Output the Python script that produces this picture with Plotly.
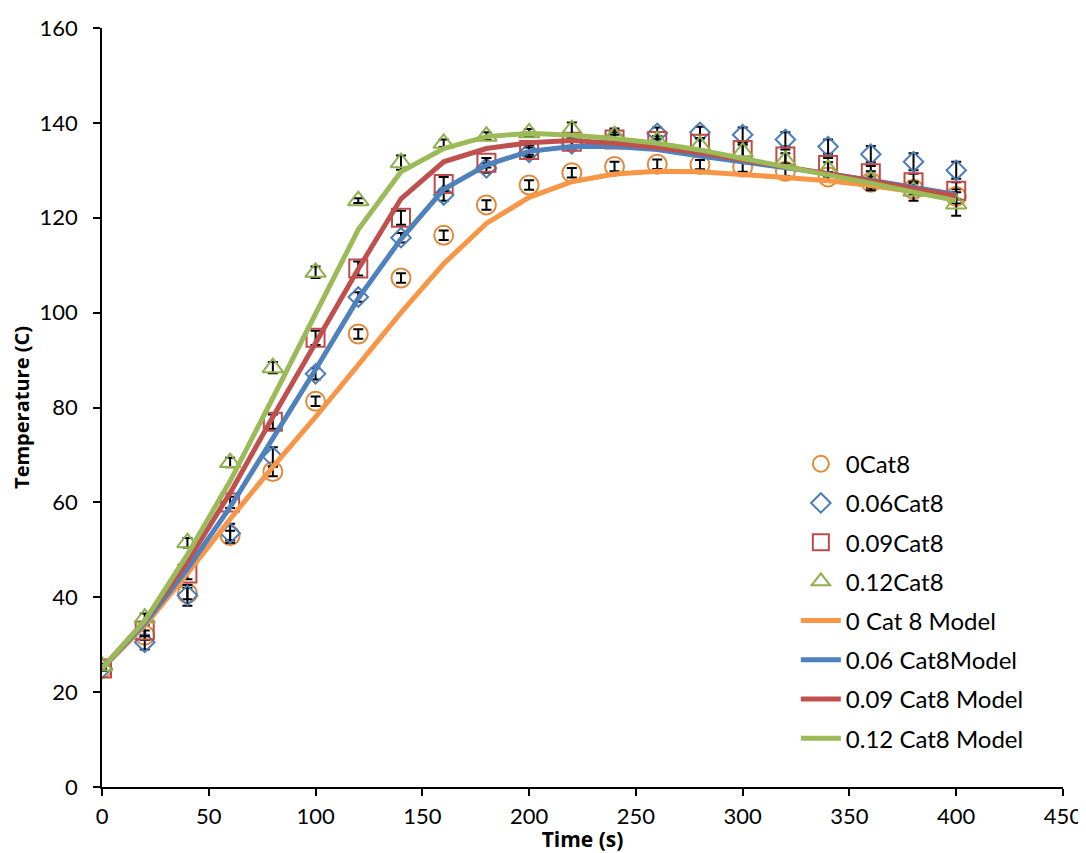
import plotly.graph_objects as go

time_s = [0, 20, 40, 60, 80, 100, 120, 140, 160, 180, 200, 220, 240, 260, 280, 300, 320, 340, 360, 380, 400]

exp_0 = [25.0, 32.0, 40.8, 53.0, 66.5, 81.3, 95.5, 107.3, 116.3, 122.7, 126.9, 129.5, 130.8, 131.3, 131.2, 130.7, 129.8, 128.6, 127.5, 126.0, 124.5]
err_0 = [0.5, 1.0, 1.2, 1.0, 1.0, 1.0, 1.0, 1.0, 1.0, 1.0, 1.0, 1.0, 1.0, 1.0, 1.0, 1.0, 1.0, 1.0, 1.2, 1.2, 1.5]

exp_06 = [25.0, 30.5, 40.4, 53.5, 69.6, 87.1, 103.3, 115.8, 124.8, 130.5, 133.8, 135.6, 136.8, 137.8, 138.0, 137.5, 136.5, 135.0, 133.4, 131.8, 130.0]
err_06 = [0.5, 1.5, 2.2, 2.0, 2.0, 1.2, 1.0, 1.0, 1.2, 1.0, 1.0, 1.0, 1.2, 1.2, 1.2, 1.5, 1.5, 1.5, 1.7, 1.8, 1.8]

exp_09 = [25.0, 33.0, 45.0, 60.0, 77.0, 94.7, 109.3, 120.0, 127.1, 131.6, 134.3, 136.0, 136.5, 136.2, 135.6, 134.3, 132.9, 131.1, 129.4, 127.5, 125.7]
err_09 = [0.5, 1.2, 1.2, 1.2, 1.5, 1.5, 1.5, 1.5, 1.5, 1.0, 1.0, 1.0, 1.0, 1.0, 1.2, 1.5, 1.5, 1.5, 1.5, 1.8, 1.8]

exp_12 = [25.5, 35.6, 51.5, 68.4, 88.4, 108.5, 123.6, 131.6, 135.7, 137.2, 137.9, 138.6, 137.3, 136.2, 135.2, 133.9, 132.1, 130.2, 127.8, 125.6, 122.9]
err_12 = [0.5, 1.0, 1.0, 1.0, 1.2, 1.2, 0.5, 1.5, 0.8, 0.8, 0.8, 1.5, 1.5, 1.0, 1.5, 1.5, 1.5, 1.5, 2.0, 2.0, 2.5]

model_0 = [25.0, 34.0, 45.0, 56.5, 67.5, 78.0, 89.0, 100.0, 110.3, 118.8, 124.3, 127.6, 129.2, 129.8, 129.7, 129.2, 128.5, 127.8, 126.8, 125.5, 124.3]
model_06 = [25.0, 34.5, 46.0, 59.0, 73.5, 88.0, 103.0, 115.5, 126.0, 131.1, 134.0, 135.0, 135.0, 134.4, 133.0, 131.8, 130.6, 129.3, 127.9, 126.4, 124.9]
model_09 = [25.0, 35.0, 47.5, 62.0, 78.0, 93.6, 109.2, 124.0, 131.8, 134.6, 135.8, 136.3, 135.7, 134.8, 133.7, 132.2, 130.8, 129.3, 127.8, 126.2, 124.6]
model_12 = [25.0, 35.0, 49.0, 64.5, 82.0, 99.5, 117.5, 129.7, 134.6, 137.1, 137.8, 137.4, 136.7, 135.7, 134.3, 132.5, 130.8, 129.1, 127.3, 125.4, 123.6]

marker_names = ["0Cat8", "0.06Cat8", "0.09Cat8", "0.12Cat8"]
model_names = ["0 Cat 8 Model", "0.06 Cat8Model", "0.09 Cat8 Model", "0.12 Cat8 Model"]

marker_colors = ["#E3893A", "#4A7EBB", "#BE4B48", "#8DB04C"]
line_colors = ["#F79646", "#4F81BD", "#C0504D", "#9BBB59"]
symbols = ["circle-open", "diamond-open", "square-open", "triangle-up-open"]
sizes = [19, 15, 18, 18]

exps = [exp_0, exp_06, exp_09, exp_12]
errs = [err_0, err_06, err_09, err_12]
models = [model_0, model_06, model_09, model_12]

fig = go.Figure()
for i in range(4):
    fig.add_trace(go.Scatter(
        x=time_s, y=exps[i], mode="markers", name=marker_names[i],
        legendgroup="g%d" % i,
        marker=dict(symbol=symbols[i], size=sizes[i], color=marker_colors[i],
                    line=dict(width=2, color=marker_colors[i])),
        error_y=dict(type="data", array=errs[i], color="black", thickness=2, width=5),
    ))
for i in range(4):
    fig.add_trace(go.Scatter(
        x=time_s, y=models[i], mode="lines", name=model_names[i],
        legendgroup="m%d" % i,
        line=dict(color=line_colors[i], width=5),
    ))

fig.update_layout(
    width=1078, height=845,
    margin=dict(l=94, r=23, t=20, b=66),
    paper_bgcolor="white", plot_bgcolor="white",
    font=dict(family="Lato, Open Sans, sans-serif", size=22, color="black"),
    legend=dict(x=0.722, y=0.455, xanchor="left", yanchor="top",
                bgcolor="rgba(0,0,0,0)", font=dict(size=24),
                traceorder="grouped", tracegroupgap=5, itemwidth=40),
    showlegend=True,
)
fig.update_xaxes(
    range=[0, 450], tick0=0, dtick=50, showgrid=False, zeroline=False,
    showline=True, linecolor="black", linewidth=1.5, automargin=False,
    ticks="outside", ticklen=7, tickwidth=1.5, tickcolor="black",
    ticklabelstandoff=2,
    title=dict(text="<b>Time (s)</b>", font=dict(size=21, family="Open Sans"), standoff=2),
)
fig.update_yaxes(
    range=[0, 160], tick0=0, dtick=20, showgrid=False, zeroline=False,
    showline=True, linecolor="black", linewidth=1.5, automargin=False,
    ticks="outside", ticklen=7, tickwidth=1.5, tickcolor="black",
    ticklabelstandoff=11,
    title=dict(text="<b>Temperature (C)</b>", font=dict(size=20, family="Open Sans"), standoff=5),
)

fig.write_html("out.html")
